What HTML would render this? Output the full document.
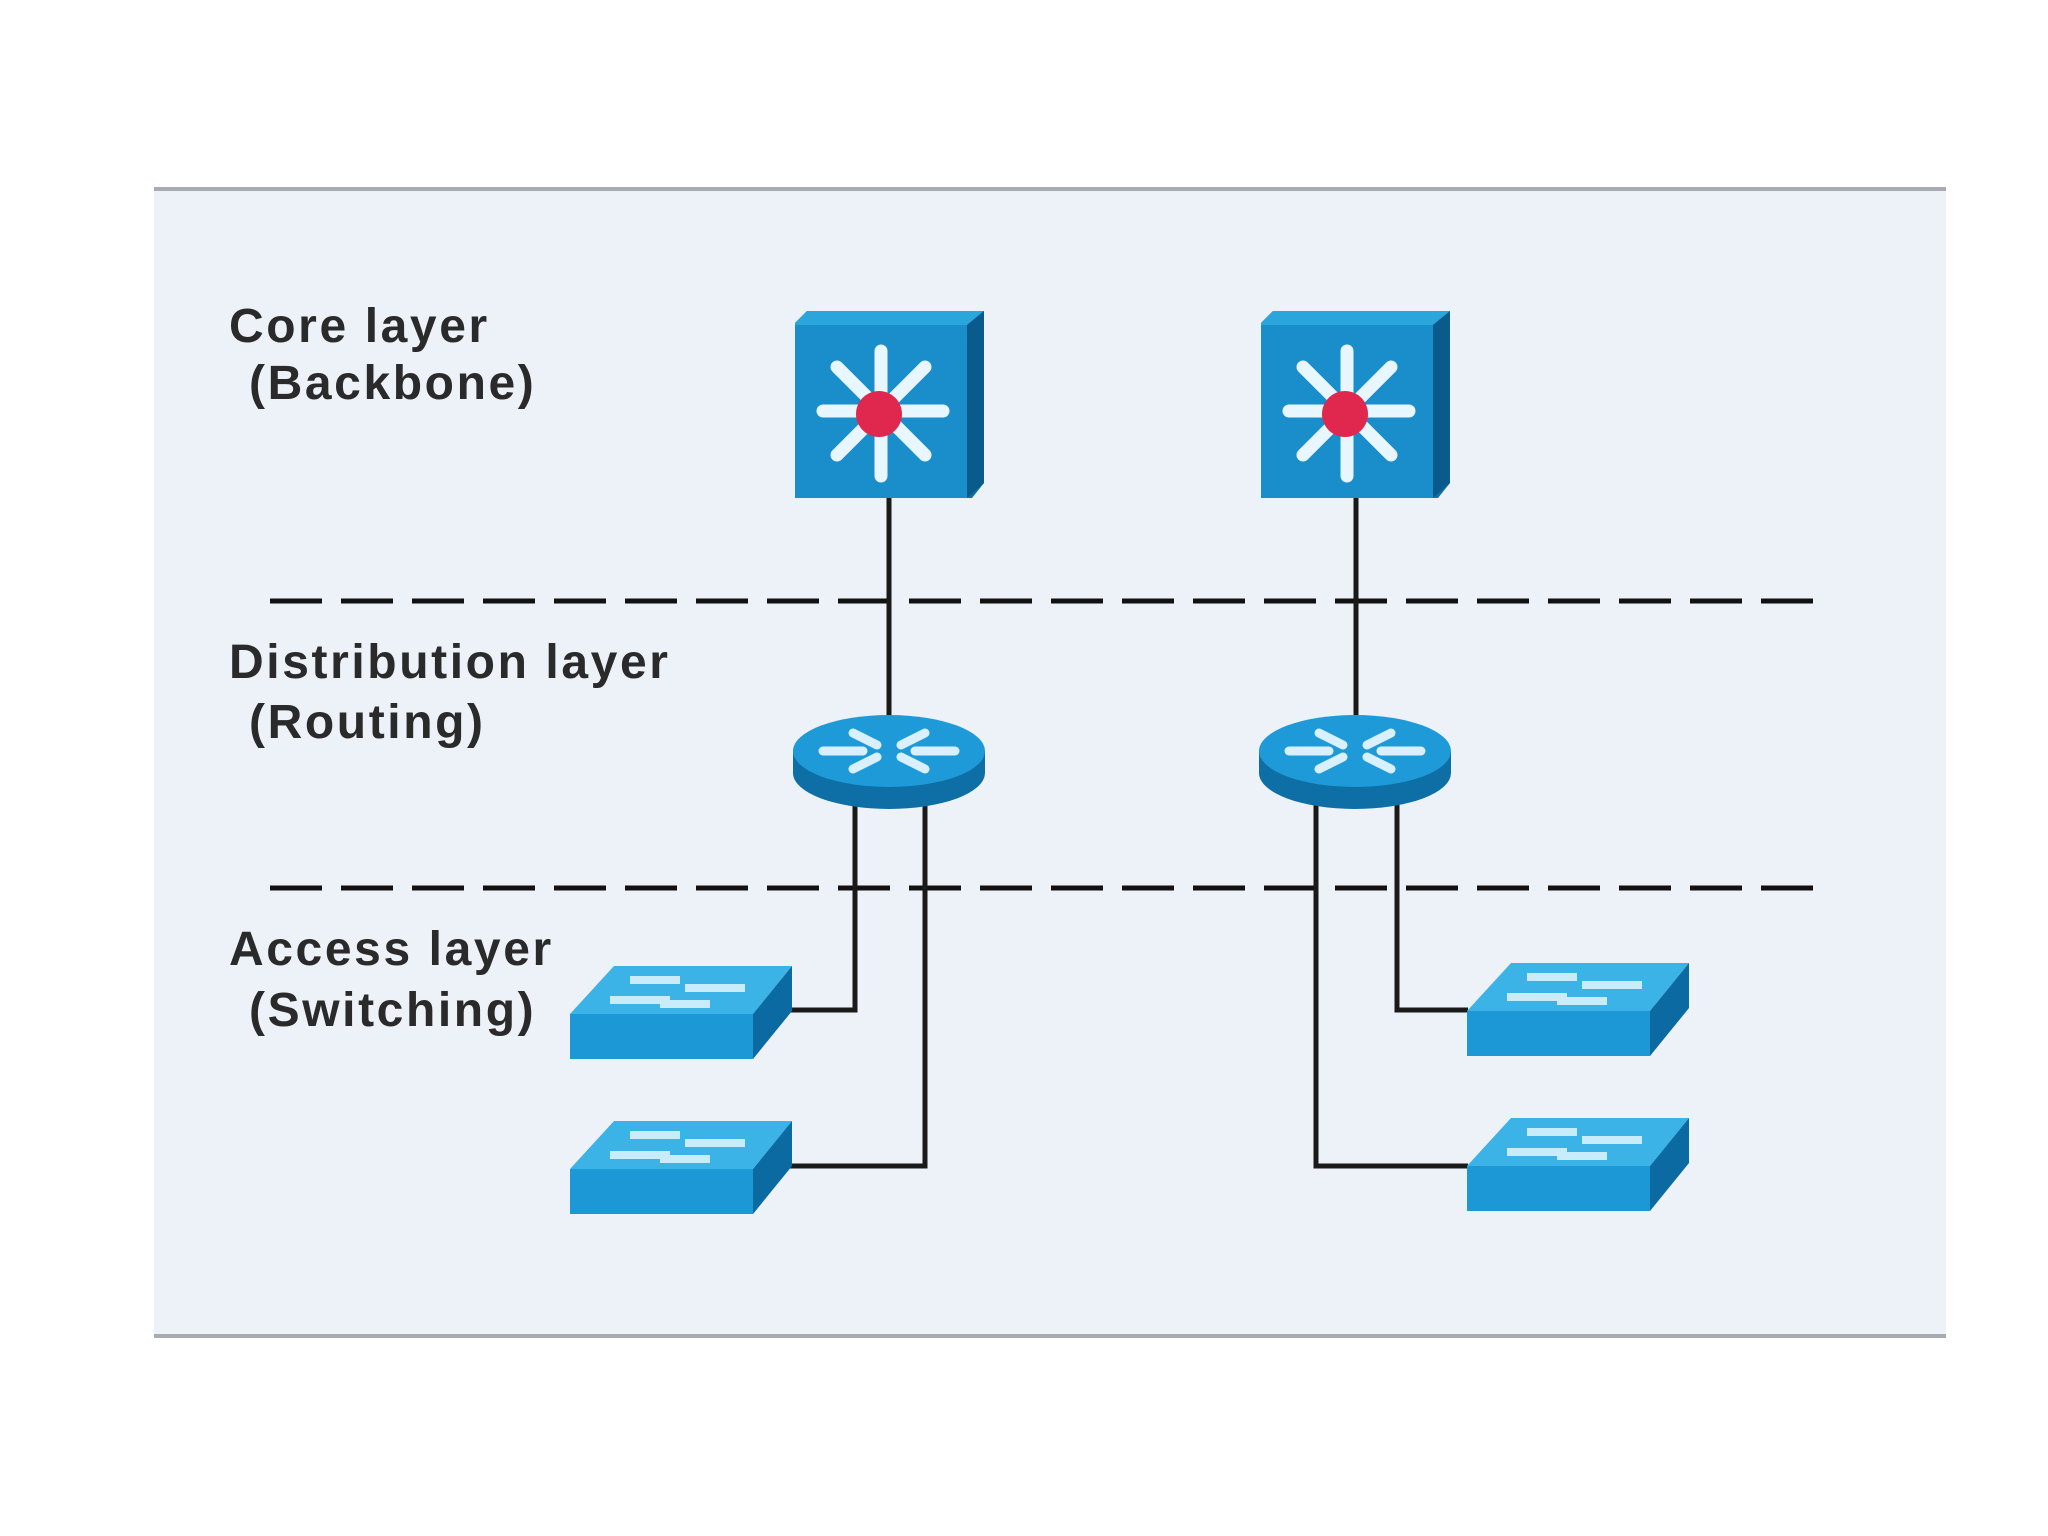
<!DOCTYPE html>
<html><head><meta charset="utf-8"><style>
html,body{margin:0;padding:0;background:#fff;width:2048px;height:1536px;overflow:hidden}
svg{display:block}
text{font-family:"Liberation Sans",sans-serif;font-weight:bold;fill:#2a2a2a;font-size:48px;letter-spacing:2.6px}
</style></head><body>
<svg width="2048" height="1536" viewBox="0 0 2048 1536" xmlns="http://www.w3.org/2000/svg">
<defs>
<g id="core">
  <polygon points="0,12 12,0 189,0 189,172 177,187 0,187" fill="#0f6fa8"/>
  <polygon points="0,12 12,0 189,0 172,14 0,14" fill="#2aa6dc"/>
  <rect x="0" y="14" width="172" height="173" fill="#1a8dcb"/>
  <polygon points="172,14 189,0 189,172 172,187" fill="#0a5a8c"/>
  <g stroke="#e8f6ff" stroke-width="13" stroke-linecap="round">
    <line x1="86" y1="100" x2="86" y2="40"/><line x1="86" y1="100" x2="86" y2="165"/>
    <line x1="86" y1="100" x2="28" y2="100"/><line x1="86" y1="100" x2="148" y2="100"/>
    <line x1="86" y1="100" x2="42" y2="56"/><line x1="86" y1="100" x2="130" y2="56"/>
    <line x1="86" y1="100" x2="42" y2="144"/><line x1="86" y1="100" x2="130" y2="144"/>
  </g>
  <circle cx="84" cy="103" r="23" fill="#e0284f"/>
</g>
<g id="router">
  <path d="M0,36 L0,58 A96,36 0 0 0 192,58 L192,36 Z" fill="#0e6ea6"/>
  <ellipse cx="96" cy="36" rx="96" ry="36" fill="#1f9ad8"/>
  <g stroke="#d8f0ff" stroke-width="9" stroke-linecap="round">
    <line x1="60" y1="18" x2="84" y2="30"/><line x1="132" y1="18" x2="108" y2="30"/>
    <line x1="60" y1="54" x2="84" y2="42"/><line x1="132" y1="54" x2="108" y2="42"/>
    <line x1="30" y1="36" x2="70" y2="36"/><line x1="122" y1="36" x2="162" y2="36"/>
  </g>
</g>
<g id="sw">
  <polygon points="0,48 44,0 222,0 183,48" fill="#3bb3e6"/>
  <g stroke="#c9ecfb" stroke-width="8">
    <line x1="40" y1="34" x2="100" y2="34"/><line x1="115" y1="22" x2="175" y2="22"/>
    <line x1="60" y1="14" x2="110" y2="14"/><line x1="90" y1="38" x2="140" y2="38"/>
  </g>
  <rect x="0" y="48" width="183" height="45" fill="#1d98d6"/>
  <polygon points="183,48 222,0 222,45 183,93" fill="#0c6aa2"/>
</g>
</defs>
<rect x="0" y="0" width="2048" height="1536" fill="#fff"/>
<rect x="154" y="189" width="1792" height="1148" fill="#edf1f8"/>
<rect x="154" y="187" width="1792" height="4" fill="#a8acb2"/>
<rect x="154" y="1334" width="1792" height="4" fill="#a8acb2"/>

<text x="229" y="342">Core layer</text>
<text x="249" y="399">(Backbone)</text>
<text x="229" y="678">Distribution layer</text>
<text x="249" y="738">(Routing)</text>
<text x="229" y="965">Access layer</text>
<text x="249" y="1026">(Switching)</text>

<g stroke="#111" stroke-width="5" stroke-dasharray="52,19">
  <line x1="270" y1="601" x2="1814" y2="601"/>
  <line x1="270" y1="888" x2="1814" y2="888"/>
</g>

<g stroke="#1a1a1a" stroke-width="5" fill="none">
  <line x1="889" y1="495" x2="889" y2="720"/>
  <line x1="1356" y1="495" x2="1356" y2="720"/>
  <polyline points="855,800 855,1010 790,1010"/>
  <polyline points="925,800 925,1166 790,1166"/>
  <polyline points="1316,800 1316,1166 1468,1166"/>
  <polyline points="1397,800 1397,1010 1468,1010"/>
</g>

<use href="#core" x="795" y="311"/>
<use href="#core" x="1261" y="311"/>
<use href="#router" x="793" y="715"/>
<use href="#router" x="1259" y="715"/>
<use href="#sw" x="570" y="966"/>
<use href="#sw" x="570" y="1121"/>
<use href="#sw" x="1467" y="963"/>
<use href="#sw" x="1467" y="1118"/>
</svg>
</body></html>
